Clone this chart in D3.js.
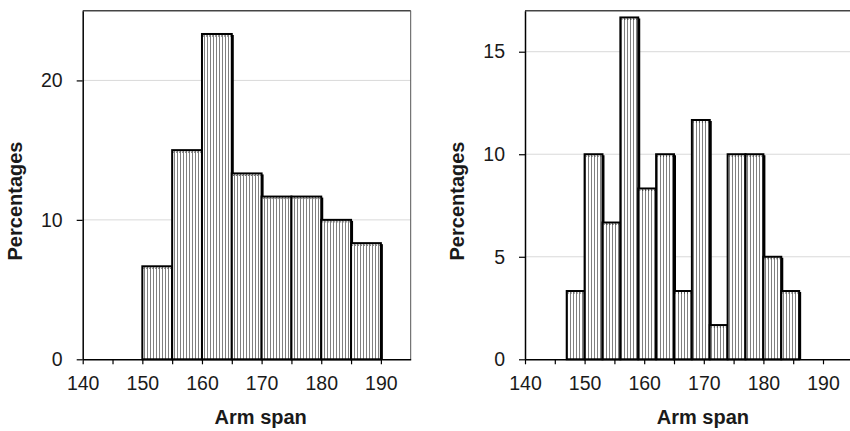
<!DOCTYPE html>
<html>
<head>
<meta charset="utf-8">
<script src="https://cdn.jsdelivr.net/npm/d3@7"></script>
<style>
  body { margin: 0; background: #fff; }
  svg text { font-family: Arial, "Liberation Sans", sans-serif; fill: #1a1a1a; }
</style>
</head>
<body>
<div id="canvas"></div>
<script>
var width = 850, height = 431;

// left panel: bins of width 5
var leftEdges = [150, 155, 160, 165, 170, 175, 180, 185, 190];
var leftPct = [6.67, 15, 23.33, 13.33, 11.67, 11.67, 10, 8.33];
var leftYTicks = [0, 10, 20];

// right panel: bins of width 3
var rightEdges = [147, 150, 153, 156, 159, 162, 165, 168, 171, 174, 177, 180, 183, 186];
var rightPct = [3.33, 10, 6.67, 16.67, 8.33, 10, 3.33, 11.67, 1.67, 10, 10, 5, 3.33];
var rightYTicks = [0, 5, 10, 15];

var xTicks = [140, 145, 150, 155, 160, 165, 170, 175, 180, 185, 190];
var xLabel = "Arm span", yLabel = "Percentages";

var svg = d3.select("#canvas").append("svg").attr("width", width).attr("height", height);

var defs = svg.append("defs");
var pat = defs.append("pattern").attr("id", "hatch")
	.attr("patternUnits", "userSpaceOnUse")
	.attr("width", 3).attr("height", 10);
pat.append("rect").attr("width", 3).attr("height", 10).attr("fill", "#fff");
pat.append("line").attr("x1", 0.5).attr("x2", 0.5).attr("y1", 0).attr("y2", 10)
	.attr("stroke", "#808080").attr("stroke-width", 1);

var drawPanel = function(left, right, yMax, edges, pct, yTicks, showRight) {
	var top = 10.7, bottom = 359.3;
	var x = d3.scaleLinear().domain([140, 195]).range([left, right]);
	var y = d3.scaleLinear().domain([0, yMax]).range([bottom, top]);
	var g = svg.append("g");

	// gridlines
	g.selectAll(".grid").data(yTicks.filter(function(d) { return d > 0; }))
		.enter().append("line")
		.attr("x1", left).attr("x2", right)
		.attr("y1", function(d) { return y(d); }).attr("y2", function(d) { return y(d); })
		.attr("stroke", "#d9d9d9").attr("stroke-width", 1);

	// frame
	g.append("line").attr("x1", left).attr("x2", right).attr("y1", top).attr("y2", top)
		.attr("stroke", "#444").attr("stroke-width", 1.5);
	if (showRight) {
		g.append("line").attr("x1", right).attr("x2", right).attr("y1", top).attr("y2", bottom)
			.attr("stroke", "#555").attr("stroke-width", 1);
	}

	var bins = pct.map(function(p, i) { return {x0: edges[i], x1: edges[i + 1], v: p}; });

	// shadow then bars
	g.selectAll(".shadow").data(bins).enter().append("rect")
		.attr("x", function(d) { return x(d.x0) + 2; })
		.attr("y", function(d) { return y(d.v) + 1; })
		.attr("width", function(d) { return x(d.x1) - x(d.x0); })
		.attr("height", function(d) { return bottom - y(d.v) - 1; })
		.attr("fill", "#000");
	g.selectAll(".bar").data(bins).enter().append("rect")
		.attr("x", function(d) { return x(d.x0); })
		.attr("y", function(d) { return y(d.v); })
		.attr("width", function(d) { return x(d.x1) - x(d.x0); })
		.attr("height", function(d) { return bottom - y(d.v); })
		.attr("fill", "url(#hatch)")
		.attr("stroke", "#000").attr("stroke-width", 2);
	// dotted row under the top edge
	g.selectAll(".topdots").data(bins).enter().append("line")
		.attr("x1", function(d) { return x(d.x0) + 1; })
		.attr("x2", function(d) { return x(d.x1) - 1; })
		.attr("y1", function(d) { return y(d.v) + 2; })
		.attr("y2", function(d) { return y(d.v) + 2; })
		.attr("stroke", "#333").attr("stroke-width", 1).attr("stroke-dasharray", "1,2");

	// axes
	var xAxis = d3.axisBottom(x).tickValues(xTicks).tickSize(5).tickSizeOuter(0).tickPadding(12)
		.tickFormat(function(d) { return d % 10 === 0 ? d : ""; });
	var gx = g.append("g").attr("transform", "translate(0," + bottom + ")").call(xAxis);
	gx.select(".domain").attr("stroke", "#000").attr("stroke-width", 1.5);
	gx.selectAll(".tick line").attr("stroke", "#000").attr("stroke-width", 1.2);
	gx.selectAll("text").style("font-size", "19.5px").attr("fill", "#1a1a1a");

	var yAxis = d3.axisLeft(y).tickValues(yTicks).tickSize(6).tickSizeOuter(0).tickPadding(14);
	var gy = g.append("g").attr("transform", "translate(" + left + ",0)").call(yAxis);
	gy.select(".domain").attr("stroke", "#000").attr("stroke-width", 1.5);
	gy.selectAll(".tick line").attr("stroke", "#000").attr("stroke-width", 1.2);
	gy.selectAll("text").style("font-size", "19.5px").attr("fill", "#1a1a1a");

	// titles
	g.append("text").text(xLabel)
		.attr("x", (left + right) / 2 + 14).attr("y", 424)
		.attr("text-anchor", "middle")
		.style("font-size", "20px").style("font-weight", "bold");
	g.append("text").text(yLabel)
		.attr("transform", "translate(" + (left - 61) + ",201) rotate(-90)")
		.attr("text-anchor", "middle")
		.style("font-size", "20px").style("font-weight", "bold");
};

drawPanel(82.7, 410.7, 25, leftEdges, leftPct, leftYTicks, true);
drawPanel(525, 852.8, 17, rightEdges, rightPct, rightYTicks, false);
</script>
</body>
</html>
